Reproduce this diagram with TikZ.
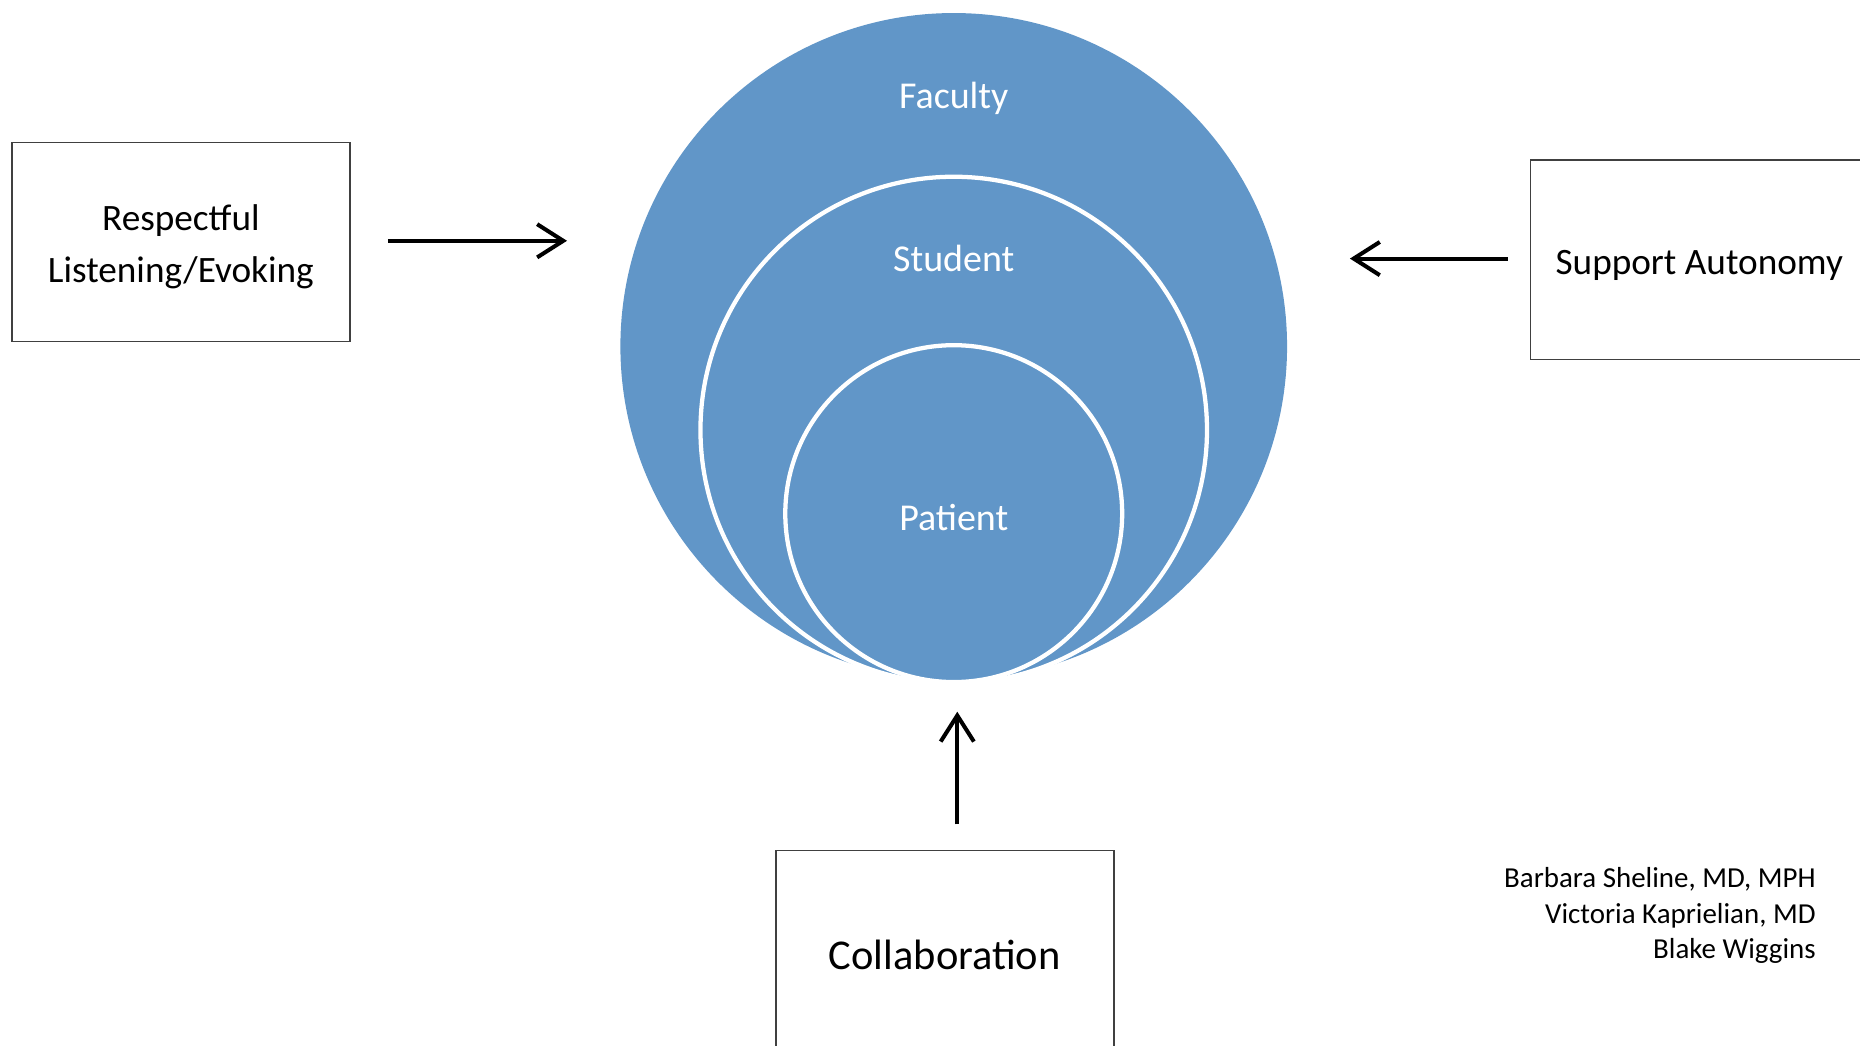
\documentclass[tikz,border=0pt]{standalone}
\usepackage{fontspec}
\setmainfont{Carlito}
\usetikzlibrary{arrows.meta}
\definecolor{ringblue}{RGB}{97,150,200}

\begin{document}
\begin{tikzpicture}[x=0.5pt,y=-0.5pt,
  ring/.style={circle,fill=ringblue,draw=white,line width=1.8pt,inner sep=0pt},
  lbl/.style={text=white,font=\fontsize{16}{19}\selectfont},
  box/.style={draw=black!75,line width=0.6pt,minimum width=142.5pt,minimum height=84pt},
  boxtext/.style={align=center,font=\fontsize{15.7}{22}\selectfont},
  push/.style={-{Straight Barb[length=11pt,width=14pt,line width=1.7pt]},line width=1.7pt}]
\clip (0,0) rectangle (1568,881);
\useasboundingbox (0,0) rectangle (1568,881);
\node[ring,draw=none,minimum size=281pt] (faculty) at (804,292) {};
\node[ring,minimum size=213.5pt] (student) at (804,362.5) {};
\node[ring,minimum size=142pt] (patient) at (804,433) {};
\node[lbl] (fac) at (804,83) {Faculty};
\node[lbl] (stu) at (804,218) {Student};
\node[lbl] (pat) at (804,436) {Patient};
\node[box] (listen) at (152.5,204) {};
\node[box] (autonomy) at (1432.5,219) {};
\node[box] (collab) at (796.5,801) {};
\node[boxtext] (listentext) at (152.5,208) {Respectful\\Listening/Evoking};
\node[boxtext] (autonomytext) at (1432.5,224) {Support Autonomy};
\node[boxtext,font=\fontsize{17.9}{22}\selectfont] (collabtext) at (796.5,805) {Collaboration};
\node[align=right,anchor=north east,inner sep=0pt,font=\fontsize{12.2}{15}\selectfont] (authors) at (1531,731) {Barbara Sheline, MD, MPH\\Victoria Kaprielian, MD\\Blake Wiggins};
\coordinate (la) at (327,203);
\coordinate (lb) at (478,203);
\coordinate (ra) at (1271,218);
\coordinate (rb) at (1138,218);
\coordinate (ca) at (807,695);
\coordinate (cb) at (807,600);
\draw[push] (la) -- (lb);
\draw[push] (ra) -- (rb);
\draw[push] (ca) -- (cb);
\end{tikzpicture}
\end{document}
